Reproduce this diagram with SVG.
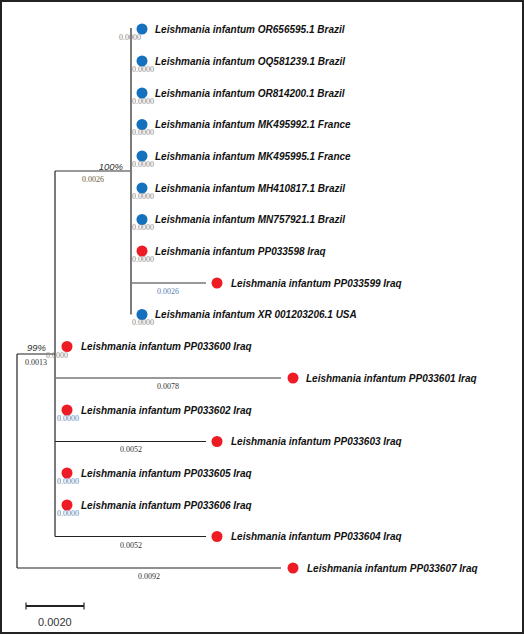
<svg xmlns="http://www.w3.org/2000/svg" width="524" height="635" viewBox="0 0 524 635">
<style>
.lbl{font-family:"Liberation Sans",Arial,sans-serif;font-size:10px;font-weight:bold;font-style:italic;fill:#111}
.bl{font-family:"Liberation Serif","Times New Roman",serif;font-size:8px}
.z1{fill:#8a8580}
.z2{fill:#5a7fb2}
.dk{fill:#333}
.br{fill:#6b5a3a}
.sup{font-family:"Liberation Sans",Arial,sans-serif;font-size:9.5px;font-style:italic;fill:#333}
.blue{fill:#1570be}
.red{fill:#ed1c24}
.e{stroke:#222;stroke-width:1.2;fill:none}
.g{stroke:#777;stroke-width:1.3;fill:none}
</style>
<rect x="1" y="1" width="522" height="632" fill="#fff" stroke="#222" stroke-width="2"/>
<g id="connectors">
<line class="e" x1="131" y1="28" x2="131" y2="314.5"/>
<line class="g" x1="55" y1="171" x2="131" y2="171"/>
<line class="g" x1="131" y1="283" x2="206" y2="283"/>
<line class="e" x1="55" y1="171" x2="55" y2="536.5"/>
<line class="e" x1="17" y1="354" x2="55" y2="354"/>
<line class="g" x1="55" y1="378" x2="281" y2="378"/>
<line class="e" x1="55" y1="441.5" x2="206" y2="441.5"/>
<line class="e" x1="55" y1="536.5" x2="206" y2="536.5"/>
<line class="e" x1="17" y1="354" x2="17" y2="568"/>
<line class="e" x1="17" y1="568" x2="281" y2="568"/>
</g>
<g id="branch-labels">
<text class="sup" x="123" y="169.5" text-anchor="end">100%</text>
<text class="bl br" x="82" y="182">0.0026</text>
<text class="bl z2" x="157" y="294">0.0026</text>
<text class="sup" x="46" y="351" text-anchor="end" font-size="8.5">99%</text>
<text class="bl dk" x="25" y="365">0.0013</text>
<text class="bl dk" x="157" y="389">0.0078</text>
<text class="bl dk" x="120" y="452">0.0052</text>
<text class="bl dk" x="120" y="548">0.0052</text>
<text class="bl dk" x="138" y="579">0.0092</text>
</g>
<g id="n1"><circle class="blue" cx="142" cy="29" r="5.5"/><text class="lbl" x="155" y="32.5">Leishmania infantum OR656595.1 Brazil</text><text class="bl z1" x="119" y="39.5">0.0000</text></g>
<g id="n2"><circle class="blue" cx="142" cy="61" r="5.5"/><text class="lbl" x="155" y="64.5">Leishmania infantum OQ581239.1 Brazil</text><text class="bl z1" x="132" y="71.5">0.0000</text></g>
<g id="n3"><circle class="blue" cx="142" cy="93" r="5.5"/><text class="lbl" x="155" y="96.5">Leishmania infantum OR814200.1 Brazil</text><text class="bl z1" x="132" y="103.5">0.0000</text></g>
<g id="n4"><circle class="blue" cx="142" cy="124.5" r="5.5"/><text class="lbl" x="155" y="128">Leishmania infantum MK495992.1 France</text><text class="bl z1" x="132" y="135">0.0000</text></g>
<g id="n5"><circle class="blue" cx="142" cy="156" r="5.5"/><text class="lbl" x="155" y="159.5">Leishmania infantum MK495995.1 France</text><text class="bl z1" x="132" y="166.5">0.0000</text></g>
<g id="n6"><circle class="blue" cx="142" cy="188" r="5.5"/><text class="lbl" x="155" y="191.5">Leishmania infantum MH410817.1 Brazil</text><text class="bl z1" x="132" y="198.5">0.0000</text></g>
<g id="n7"><circle class="blue" cx="142" cy="219.5" r="5.5"/><text class="lbl" x="155" y="223">Leishmania infantum MN757921.1 Brazil</text><text class="bl z1" x="132" y="230">0.0000</text></g>
<g id="n8"><circle class="red" cx="142" cy="251" r="5.5"/><text class="lbl" x="155" y="254.5">Leishmania infantum PP033598 Iraq</text><text class="bl z1" x="132" y="261.5">0.0000</text></g>
<g id="n9"><circle class="red" cx="217" cy="283" r="5.5"/><text class="lbl" x="231" y="286.5">Leishmania infantum PP033599 Iraq</text></g>
<g id="n10"><circle class="blue" cx="142" cy="314.5" r="5.5"/><text class="lbl" x="155" y="318">Leishmania infantum XR 001203206.1 USA</text><text class="bl z1" x="132" y="325">0.0000</text></g>
<g id="n11"><circle class="red" cx="67" cy="346.5" r="5.5"/><text class="lbl" x="81" y="350">Leishmania infantum PP033600 Iraq</text><text class="bl z1" x="46" y="358">0.0000</text></g>
<g id="n12"><circle class="red" cx="293" cy="378" r="5.5"/><text class="lbl" x="306" y="381.5">Leishmania infantum PP033601 Iraq</text></g>
<g id="n13"><circle class="red" cx="67" cy="410" r="5.5"/><text class="lbl" x="81" y="413.5">Leishmania infantum PP033602 Iraq</text><text class="bl z2" x="57" y="420.5">0.0000</text></g>
<g id="n14"><circle class="red" cx="217" cy="441.5" r="5.5"/><text class="lbl" x="231" y="445">Leishmania infantum PP033603 Iraq</text></g>
<g id="n15"><circle class="red" cx="67" cy="473" r="5.5"/><text class="lbl" x="81" y="476.5">Leishmania infantum PP033605 Iraq</text><text class="bl z2" x="57" y="483.5">0.0000</text></g>
<g id="n16"><circle class="red" cx="67" cy="505" r="5.5"/><text class="lbl" x="81" y="508.5">Leishmania infantum PP033606 Iraq</text><text class="bl z2" x="57" y="515.5">0.0000</text></g>
<g id="n17"><circle class="red" cx="217" cy="536.5" r="5.5"/><text class="lbl" x="231" y="540">Leishmania infantum PP033604 Iraq</text></g>
<g id="n18"><circle class="red" cx="293" cy="568" r="5.5"/><text class="lbl" x="307" y="571.5">Leishmania infantum PP033607 Iraq</text></g>
<g id="scale-bar">
<line x1="26" y1="606" x2="84" y2="606" stroke="#222" stroke-width="2"/>
<line x1="26" y1="602.5" x2="26" y2="609.5" stroke="#222" stroke-width="1.2"/>
<line x1="84" y1="602.5" x2="84" y2="609.5" stroke="#222" stroke-width="1.2"/>
<text x="38" y="626" font-family="Liberation Sans,Arial,sans-serif" font-size="11" fill="#333">0.0020</text>
</g>
</svg>
